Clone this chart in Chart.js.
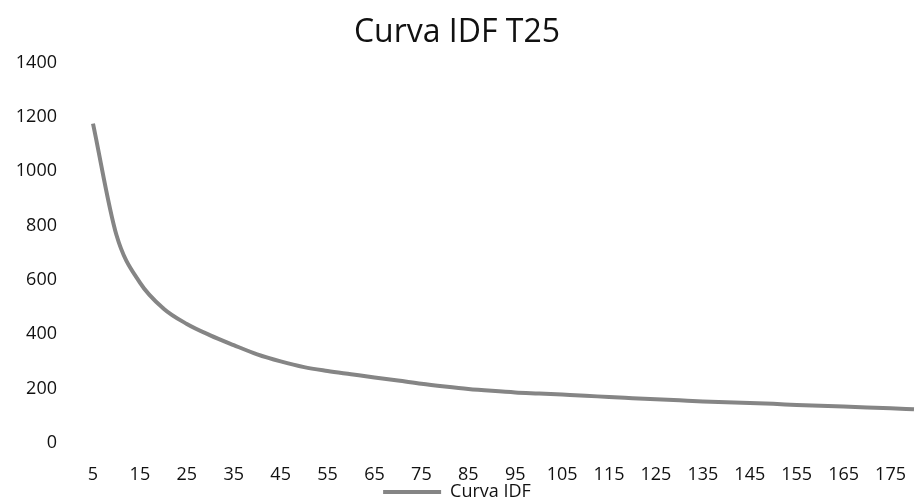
<!DOCTYPE html>
<html>
<head>
<meta charset="utf-8">
<script src="https://cdn.jsdelivr.net/npm/chart.js@4.4.1/dist/chart.umd.min.js"></script>
<style>
  html, body { margin: 0; padding: 0; background: #fff; }
  #wrap { width: 916px; height: 501px; }
</style>
</head>
<body>
<div id="wrap"><canvas id="chart"></canvas></div>
<script>
// duration (min)
const durations = [5, 10, 15, 20, 25, 30, 35, 40, 45, 50, 55, 60, 65, 70, 75, 80, 85, 90,
  95, 100, 105, 110, 115, 120, 125, 130, 135, 140, 145, 150, 155, 160, 165, 170, 175, 180];
// intensity
const intensity = [1175, 765, 590, 495, 438, 396, 360, 326, 300, 279, 265, 253, 241, 230, 218, 208, 199, 192,
  186, 182, 178, 174, 169, 165, 161, 157, 153, 150, 147, 144, 140, 137, 134, 131, 128, 124];
const yTicks = [0, 200, 400, 600, 800, 1000, 1200, 1400];

const font = "'Open Sans', sans-serif";
const lineColor = "#858585";

const ctx = document.getElementById("chart");
new Chart(ctx, {
  type: "line",
  data: {
    labels: durations,
    datasets: [
      {
        label: "Curva IDF",
        data: intensity,
        borderColor: lineColor,
        backgroundColor: lineColor,
        borderWidth: 4,
        pointRadius: 0,
        cubicInterpolationMode: "monotone",
      },
    ],
  },
  options: {
    responsive: true,
    maintainAspectRatio: false,
    animation: false,
    layout: { padding: { left: 0, right: 2, top: 2, bottom: -10 } },
    plugins: {
      title: {
        display: true,
        text: "Curva IDF T25",
        color: "#111",
        font: { family: font, size: 32, weight: "normal" },
        padding: { top: 12, bottom: 10 },
      },
      legend: {
        position: "bottom",
        labels: {
          color: "#111",
          font: { family: font, size: 18 },
          boxWidth: 58,
          boxHeight: 4,
          padding: 1,
          generateLabels: (chart) =>
            Chart.defaults.plugins.legend.labels.generateLabels(chart).map((l) => {
              l.lineWidth = 0;
              return l;
            }),
        },
      },
      tooltip: { enabled: false },
    },
    scales: {
      x: {
        offset: false,
        grid: { display: false, drawTicks: false },
        border: { display: false },
        afterFit: (axis) => {
          axis.height = 39;
          axis.paddingRight = 0;
        },
        ticks: {
          color: "#111",
          font: { family: font, size: 18 },
          autoSkip: false,
          maxRotation: 0,
          padding: 21,
          callback: (v, i) => (i % 2 === 0 ? String(durations[i]) : ""),
        },
      },
      y: {
        min: 0,
        max: 1400,
        grid: { display: false, drawTicks: false },
        border: { display: false },
        afterBuildTicks: (axis) => {
          axis.ticks = yTicks.map((v) => ({ value: v }));
        },
        afterFit: (axis) => {
          axis.width = 93;
        },
        ticks: {
          color: "#111",
          font: { family: font, size: 18 },
          padding: 36,
          callback: (v) => String(v),
        },
      },
    },
  },
});
</script>
</body>
</html>
